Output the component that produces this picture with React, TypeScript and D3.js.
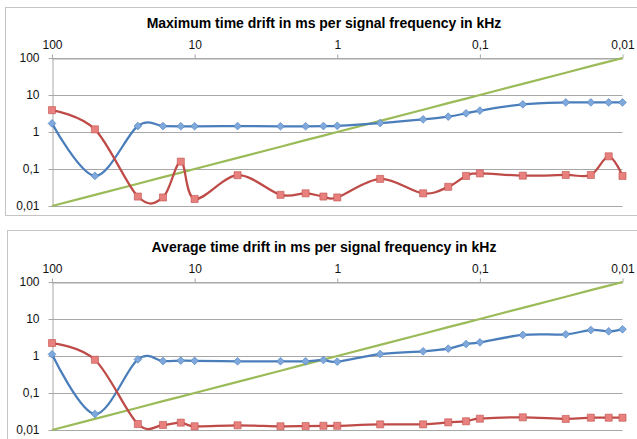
import { useRef, useEffect } from "react";
import * as d3 from "d3";

// signal frequency in kHz (x), one entry per measurement
const freqKHz = [
  100, 50, 25, 16.667, 12.5, 10, 5, 2.5, 1.667, 1.25, 1, 0.5, 0.25, 0.1667,
  0.125, 0.1, 0.05, 0.025, 0.01667, 0.0125, 0.01,
];
// signal period in ms (green reference line)
const periodMs = [
  0.01, 0.02, 0.04, 0.06, 0.08, 0.1, 0.2, 0.4, 0.6, 0.8, 1, 2, 4, 6, 8, 10,
  20, 40, 60, 80, 100,
];

const maxBlue = [
  1.71, 0.065, 1.45, 1.45, 1.43, 1.43, 1.45, 1.43, 1.43, 1.45, 1.47, 1.75,
  2.2, 2.6, 3.2, 3.8, 5.6, 6.3, 6.3, 6.3, 6.3,
];
const maxRed = [
  3.9, 1.18, 0.018, 0.017, 0.158, 0.0155, 0.068, 0.02, 0.022, 0.018, 0.017,
  0.054, 0.022, 0.033, 0.065, 0.076, 0.066, 0.069, 0.069, 0.22, 0.065,
];
const avgBlue = [
  1.11, 0.027, 0.81, 0.73, 0.75, 0.74, 0.72, 0.72, 0.72, 0.78, 0.7, 1.13,
  1.34, 1.58, 2.11, 2.34, 3.7, 3.86, 5.04, 4.64, 5.27,
];
const avgRed = [
  2.24, 0.79, 0.0145, 0.0137, 0.0158, 0.0126, 0.0134, 0.0126, 0.0128, 0.013,
  0.013, 0.0142, 0.0142, 0.0161, 0.0172, 0.0202, 0.022, 0.0199, 0.0215,
  0.0215, 0.0215,
];

const xTicks = [100, 10, 1, 0.1, 0.01];
const yTicks = [100, 10, 1, 0.1, 0.01];
const tickLabels = ["100", "10", "1", "0,1", "0,01"];

const FONT = "'Liberation Sans', Arial, sans-serif";

function Panel({ title, top, frameX, frameY, frameH, blue, red }) {
  const gRef = useRef(null);

  useEffect(() => {
    const g = d3.select(gRef.current);
    g.selectAll("*").remove();

    const x = d3.scaleLog().domain([100, 0.01]).range([52, 622.5]);
    const y = d3.scaleLog().domain([0.01, 100]).range([top + 148, top]);
    const fmt = (d) => tickLabels[yTicks.indexOf(d)] ?? "";

    // frame
    g.append("rect")
      .attr("x", frameX + 0.5)
      .attr("y", frameY + 0.5)
      .attr("width", 700)
      .attr("height", frameH)
      .attr("fill", "#fff")
      .attr("stroke", "#c4c4c4");

    g.append("text")
      .attr("x", 324)
      .attr("y", top - 30)
      .attr("text-anchor", "middle")
      .attr("font-family", FONT)
      .attr("font-weight", "bold")
      .attr("font-size", 14)
      .text(title);

    // gridlines
    g.append("g")
      .selectAll("line")
      .data(yTicks)
      .join("line")
      .attr("x1", 52)
      .attr("x2", 622.5)
      .attr("y1", (d) => Math.round(y(d)) + 0.5)
      .attr("y2", (d) => Math.round(y(d)) + 0.5)
      .attr("stroke", "#a8a8a8");

    const xAxis = d3
      .axisTop(x)
      .tickValues(xTicks)
      .tickSize(4)
      .tickSizeOuter(0)
      .tickPadding(6)
      .tickFormat((d) => tickLabels[xTicks.indexOf(d)]);
    const ax = g
      .append("g")
      .attr("transform", `translate(0,${Math.round(y(100)) + 0.5})`)
      .call(xAxis);

    const yAxis = d3
      .axisLeft(y)
      .tickValues(yTicks)
      .tickSize(4)
      .tickSizeOuter(0)
      .tickPadding(9)
      .tickFormat(fmt);
    const ay = g.append("g").attr("transform", "translate(52.5,0)").call(yAxis);

    [ax, ay].forEach((a) => {
      a.select(".domain").attr("stroke", "#a8a8a8");
      a.selectAll(".tick line").attr("stroke", "#a8a8a8");
      a.selectAll(".tick text")
        .attr("fill", "#111")
        .attr("font-family", FONT)
        .attr("font-size", 12);
    });

    const pts = (vals) => freqKHz.map((f, i) => [x(f), y(vals[i])]);
    const smooth = d3.line().curve(d3.curveCardinal.tension(0));
    const straight = d3.line();

    g.append("path")
      .attr("d", straight(pts(periodMs)))
      .attr("fill", "none")
      .attr("stroke", "#9bbb59")
      .attr("stroke-width", 2.25);

    // diamonds are squares turned by 45 degrees
    const series = [
      { vals: blue, line: "#4a7ebb", fill: "#7fa8dc", edge: "#4a7ebb", size: 30, rot: 45 },
      { vals: red, line: "#be4b48", fill: "#e8807d", edge: "#c0504d", size: 50, rot: 0 },
    ];
    series.forEach((s) => {
      g.append("path")
        .attr("d", smooth(pts(s.vals)))
        .attr("fill", "none")
        .attr("stroke", s.line)
        .attr("stroke-width", 2.25);
      g.append("g")
        .selectAll("path")
        .data(pts(s.vals))
        .join("path")
        .attr("transform", (d) => `translate(${d[0]},${d[1]}) rotate(${s.rot})`)
        .attr("d", d3.symbol(d3.symbolSquare, s.size)())
        .attr("fill", s.fill)
        .attr("stroke", s.edge)
        .attr("stroke-width", 0.6);
    });
  }, [title, top, frameX, frameY, frameH, blue, red]);

  return <g ref={gRef} />;
}

export default function App() {
  return (
    <svg
      width={637}
      height={439}
      style={{ position: "absolute", left: 0, top: 0, background: "#fff" }}
    >
      <Panel
        title="Maximum time drift in ms per signal frequency in kHz"
        top={58}
        frameX={5}
        frameY={7}
        frameH={208}
        blue={maxBlue}
        red={maxRed}
      />
      <Panel
        title="Average time drift in ms per signal frequency in kHz"
        top={282}
        frameX={7}
        frameY={230}
        frameH={240}
        blue={avgBlue}
        red={avgRed}
      />
    </svg>
  );
}
